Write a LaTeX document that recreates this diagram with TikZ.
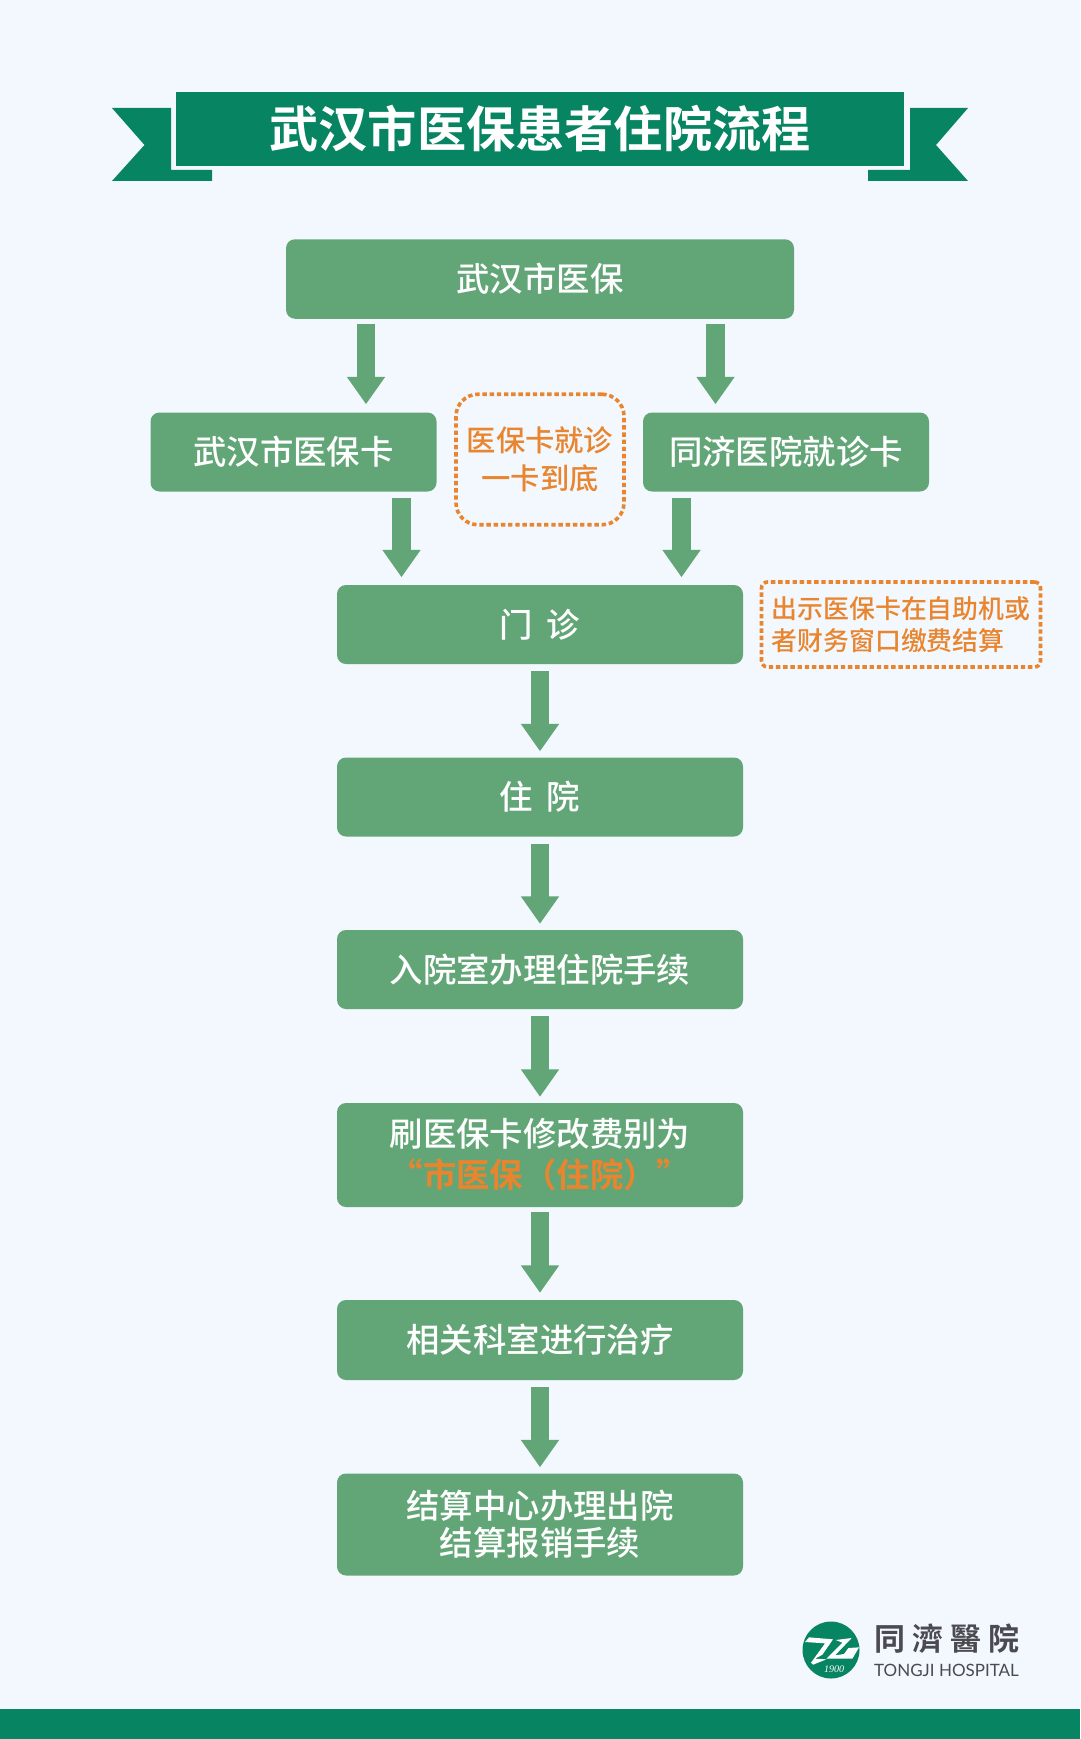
\documentclass[tikz,border=0pt]{standalone}
\usepackage{fontspec}
\setmainfont{Noto Sans CJK SC}
\newfontfamily\cjkbold{Noto Sans CJK SC Bold}
\newfontfamily\cjkmid{Noto Sans CJK SC Medium}
\newfontfamily\cjktc{Noto Sans CJK TC Bold}
\newfontfamily\latinlogo{Lato}
\newfontfamily\yearfont[Scale=1]{Liberation Serif}
\usetikzlibrary{arrows.meta}
\definecolor{bgc}{HTML}{F2F8FE}
\definecolor{dkgreen}{HTML}{078461}
\definecolor{boxgreen}{HTML}{62A678}
\definecolor{orangec}{HTML}{E8852E}
\definecolor{logogray}{HTML}{4A4A50}
\newcommand\upa[1]{\raisebox{1pt}{#1}}
\tikzset{
  flowbox/.style={fill=boxgreen,draw=none,rounded corners=9pt,text=white,align=center,inner sep=0pt,
    font=\cjkmid\fontsize{33.4}{37}\selectfont},
  notebox/.style={draw=orangec,line width=3.6pt,dash pattern=on 4.4pt off 2.8pt,text=orangec,inner sep=0pt,
    font=\cjkmid},
  flow/.style={draw=boxgreen,line width=18.7pt,-{Triangle[width=36.5pt,length=27.5pt]}},
}
\begin{document}
\begin{tikzpicture}[x=1pt,y=-1pt]
\useasboundingbox (0,0) rectangle (1080,1739);
\fill[bgc] (0,0) rectangle (1080,1739);
\fill[dkgreen] (0,1709) rectangle (1080,1739);
% banner
\fill[dkgreen] (112,108) -- (171,108) -- (171,170) -- (212,170) -- (212,181) -- (112,181) -- (144.5,145) -- cycle;
\fill[dkgreen] (968,108) -- (910,108) -- (910,170) -- (868,170) -- (868,181) -- (968,181) -- (936,145) -- cycle;
\node[fill=dkgreen,minimum width=728pt,minimum height=74pt,inner sep=0pt,text=white,font=\cjkbold\fontsize{49.2}{49}\selectfont] (title) at (540,129) {\upa{武汉市医保患者住院流程}};
% boxes
\node[flowbox,minimum width=508pt,minimum height=79.5pt] (top) at (540,279) {\upa{武汉市医保}};
\node[flowbox,minimum width=286pt,minimum height=79pt] (card) at (293.5,452) {\upa{武汉市医保卡}};
\node[flowbox,minimum width=286pt,minimum height=79pt] (tjcard) at (786,452) {\upa{同济医院就诊卡}};
\node[flowbox,minimum width=406pt,minimum height=79pt] (opd) at (540,624.5) {\upa{门\hspace{0.4em}诊}};
\node[flowbox,minimum width=406pt,minimum height=79pt] (inp) at (540,797) {\upa{住\hspace{0.4em}院}};
\node[flowbox,minimum width=406pt,minimum height=79pt] (adm) at (540,969.5) {\upa{入院室办理住院手续}};
\node[flowbox,minimum width=406pt,minimum height=104pt,font=\cjkmid\fontsize{33.4}{42}\selectfont] (swipe) at (540,1155) {刷医保卡修改费别为\\[-1pt]{\cjkbold\color{orangec}“市医保（住院）”}};
\node[flowbox,minimum width=406pt,minimum height=80pt] (treat) at (540,1340) {\upa{相关科室进行治疗}};
\node[flowbox,minimum width=406pt,minimum height=102pt] (settle) at (540,1524.5) {结算中心办理出院\\结算报销手续};
% notes
\node[notebox,rounded corners=22pt,minimum width=168pt,minimum height=130.5pt,align=center,font=\cjkmid\fontsize{29.3}{37.5}\selectfont] (note1) at (540,459.5) {医保卡就诊\\一卡到底};
\node[notebox,rounded corners=6pt,minimum width=279pt,minimum height=85pt,font=\cjkmid\fontsize{25.9}{32}\selectfont] (note2) at (901,624.5) {\begin{minipage}{259pt}出示医保卡在自助机或\\者财务窗口缴费结算\end{minipage}};
% arrows
\draw[flow] ([xshift=-174pt,yshift=-5pt]top.south) -- ([xshift=72.5pt,yshift=8pt]card.north);
\draw[flow] ([xshift=175.5pt,yshift=-5pt]top.south) -- ([xshift=-70.5pt,yshift=8pt]tjcard.north);
\draw[flow] ([xshift=108pt,yshift=-6.5pt]card.south) -- ([xshift=-138.5pt,yshift=7.5pt]opd.north);
\draw[flow] ([xshift=-104.5pt,yshift=-6.5pt]tjcard.south) -- ([xshift=141.5pt,yshift=7.5pt]opd.north);
\draw[flow] ([yshift=-7pt]opd.south) -- ([yshift=6pt]inp.north);
\draw[flow] ([yshift=-7pt]inp.south) -- ([yshift=6pt]adm.north);
\draw[flow] ([yshift=-7pt]adm.south) -- ([yshift=6pt]swipe.north);
\draw[flow] ([yshift=-5pt]swipe.south) -- ([yshift=7pt]treat.north);
\draw[flow] ([yshift=-7pt]treat.south) -- ([yshift=6pt]settle.north);
% logo
\fill[dkgreen] (831,1650) circle (28.5);
\begin{scope}[shift={(795.7,1618)},x=0.3333pt,y=-0.3333pt]
\fill[white] (28,72) -- (40,58) -- (112,64) -- (80,110) -- (58,122) -- (92,124) -- (52,140) -- (46,134) -- (88,76) -- cycle;
\fill[white] (120,66) -- (168,60) -- (118,112) -- (145,108) -- (158,90) -- (190,88) -- (170,122) -- (92,122) -- (108,106) -- (140,74) -- cycle;
\end{scope}
\node[text=white,inner sep=0pt,font=\yearfont\itshape\fontsize{10}{10}\selectfont] (lyear) at (834,1669) {1900};
\node[text=logogray,font=\cjktc\fontsize{31}{31}\selectfont,inner sep=0pt] (lname) at (947,1639) {同\hspace{0.23em}濟\hspace{0.23em}醫\hspace{0.23em}院};
\node[text=logogray,font=\latinlogo\fontsize{17}{18}\selectfont,inner sep=0pt] (lname2) at (946.5,1670) {TONGJI HOSPITAL};
\end{tikzpicture}
\end{document}
